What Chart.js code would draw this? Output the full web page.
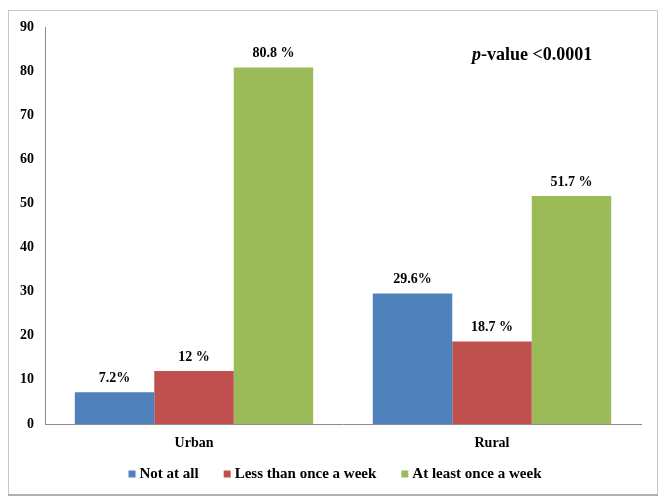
<!DOCTYPE html>
<html>
<head>
<meta charset="utf-8">
<script src="https://cdn.jsdelivr.net/npm/chart.js@4"></script>
<style>
  html, body { margin: 0; padding: 0; background: #fff; }
  #wrap { width: 662px; height: 502px; }
</style>
</head>
<body>
<div id="wrap"><canvas id="barCanvas" width="662" height="502"></canvas></div>
<script>
const areas = ['Urban', 'Rural'];
const notAtAll = [7.2, 29.6];
const lessThanWeekly = [12, 18.7];
const atLeastWeekly = [80.8, 51.7];
const valueLabels = [
    ['7.2%', '29.6%'],
    ['12 %', '18.7 %'],
    ['80.8 %', '51.7 %']
];
const yTicks = [0, 10, 20, 30, 40, 50, 60, 70, 80, 90];

const serif = '"Liberation Serif", "Times New Roman", serif';

// outer frame around the whole figure
const framePlugin = {
    id: 'frame',
    beforeDraw(chart) {
        const ctx = chart.ctx;
        ctx.save();
        ctx.strokeStyle = '#c8c8c8';
        ctx.lineWidth = 1;
        ctx.strokeRect(8.5, 10.5, 649, 484);
        ctx.strokeStyle = '#b0b0b0';
        ctx.lineWidth = 2;
        ctx.beginPath();
        ctx.moveTo(8, 495);
        ctx.lineTo(658, 495);
        ctx.stroke();
        ctx.restore();
    }
};

// percentages above bars + p-value note
const labelPlugin = {
    id: 'valueLabels',
    afterDatasetsDraw(chart) {
        const ctx = chart.ctx;
        ctx.save();
        ctx.fillStyle = '#000';
        ctx.font = 'bold 14px ' + serif;
        ctx.textAlign = 'center';
        ctx.textBaseline = 'bottom';
        chart.data.datasets.forEach((ds, i) => {
            chart.getDatasetMeta(i).data.forEach((bar, j) => {
                ctx.fillText(valueLabels[i][j], bar.x, bar.y - 7);
            });
        });

        ctx.textAlign = 'left';
        ctx.textBaseline = 'middle';
        let x = 472;
        ctx.font = 'italic bold 18px ' + serif;
        ctx.fillText('p', x, 55);
        x += ctx.measureText('p').width;
        ctx.font = 'bold 18px ' + serif;
        ctx.fillText('-value <0.0001', x, 55);
        ctx.restore();
    }
};

// legend row: small squares, tight box-text gap, wide item gap
const legendRowPlugin = {
    id: 'legendRow',
    afterDraw(chart) {
        const ctx = chart.ctx;
        const box = 7, gap = 4, itemGap = 25, y = 474;
        ctx.save();
        ctx.font = 'bold 15px ' + serif;
        const items = chart.data.datasets.map(ds => ({
            text: ds.label,
            color: ds.backgroundColor,
            w: box + gap + ctx.measureText(ds.label).width
        }));
        const total = items.reduce((s, it) => s + it.w, 0) + itemGap * (items.length - 1);
        let x = 335 - total / 2;
        ctx.textBaseline = 'middle';
        ctx.textAlign = 'left';
        items.forEach(it => {
            ctx.fillStyle = it.color;
            ctx.fillRect(x, y - box / 2, box, box);
            ctx.fillStyle = '#000';
            ctx.fillText(it.text, x + box + gap, y);
            x += it.w + itemGap;
        });
        ctx.restore();
    }
};

new Chart(document.getElementById('barCanvas'), {
    type: 'bar',
    data: {
        labels: areas,
        datasets: [
            { label: 'Not at all', data: notAtAll, backgroundColor: '#4F81BD' },
            { label: 'Less than once a week', data: lessThanWeekly, backgroundColor: '#C0504D' },
            { label: 'At least once a week', data: atLeastWeekly, backgroundColor: '#9BBB59' }
        ]
    },
    options: {
        responsive: false,
        animation: false,
        layout: { padding: { left: 14, right: 21, top: 27, bottom: 0 } },
        datasets: {
            bar: { categoryPercentage: 0.8, barPercentage: 1.0 }
        },
        plugins: {
            legend: { display: false },
            tooltip: { enabled: false }
        },
        scales: {
            x: {
                grid: { display: false, drawTicks: false },
                border: { color: '#8c8c8c' },
                ticks: {
                    color: '#000',
                    font: { family: serif, size: 14, weight: 'bold' },
                    padding: 11
                },
                afterFit(scale) { scale.height = 78; }
            },
            y: {
                min: 0,
                max: 90,
                afterBuildTicks(scale) { scale.ticks = yTicks.map(v => ({ value: v })); },
                grid: { display: false, drawTicks: false },
                border: { color: '#8c8c8c' },
                ticks: {
                    color: '#000',
                    font: { family: serif, size: 14, weight: 'bold' },
                    padding: 11
                },
                afterFit(scale) { scale.width = 31; }
            }
        }
    },
    plugins: [framePlugin, labelPlugin, legendRowPlugin]
});
</script>
</body>
</html>
